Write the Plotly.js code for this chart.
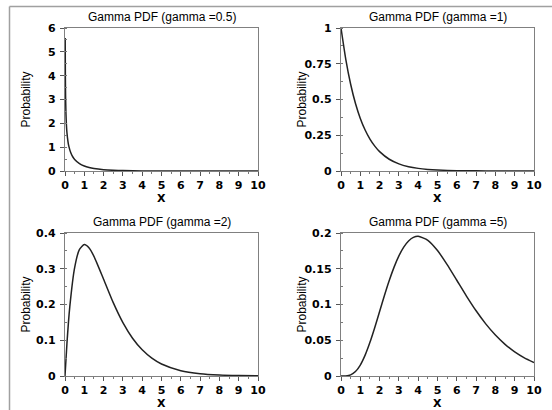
<!DOCTYPE html>
<html>
<head>
<meta charset="utf-8">
<script src="https://cdn.plot.ly/plotly-3.0.1.min.js"></script>
<style>
html,body{margin:0;padding:0;background:#fff;}
#chart{width:552px;height:410px;}
</style>
</head>
<body>
<div id="chart"></div>
<script>
// Panel titles
var titles = ["Gamma PDF (gamma =0.5)", "Gamma PDF (gamma =1)", "Gamma PDF (gamma =2)", "Gamma PDF (gamma =5)"];

// gamma = 0.5
var x1 = [0.01,0.02,0.03,0.05,0.075,0.1,0.15,0.2,0.3,0.4,0.5,0.75,1,1.25,1.5,2,2.5,3,4,5,6,8,10];
var y1 = [5.585,3.910,3.161,2.400,1.911,1.614,1.254,1.033,0.763,0.598,0.484,0.308,0.2076,0.1446,0.1028,0.0540,0.0293,0.0162,0.00517,0.0017,0.00057,0.000067,0.0000081];

// gamma = 1
var x2 = [0,0.25,0.5,0.75,1,1.25,1.5,1.75,2,2.5,3,3.5,4,4.5,5,6,7,8,9,10];
var y2 = [1,0.7788,0.6065,0.4724,0.3679,0.2865,0.2231,0.1738,0.1353,0.0821,0.0498,0.0302,0.0183,0.0111,0.00674,0.00248,0.000912,0.000335,0.000123,0.0000454];

// gamma = 2
var x3 = [0,0.1,0.25,0.5,0.75,1,1.25,1.5,2,2.5,3,3.5,4,4.5,5,6,7,8,9,10];
var y3 = [0,0.0905,0.1947,0.3033,0.3543,0.3679,0.3581,0.3347,0.2707,0.2052,0.1494,0.1057,0.0733,0.0500,0.0337,0.0149,0.00638,0.00268,0.00111,0.000454];

// gamma = 5
var x4 = [0,0.25,0.5,0.75,1,1.25,1.5,1.75,2,2.25,2.5,2.75,3,3.25,3.5,3.75,4,4.5,5,5.5,6,6.5,7,7.5,8,8.5,9,9.5,10];
var y4 = [0,0.000127,0.00158,0.00623,0.01533,0.02914,0.04707,0.0679,0.0902,0.1126,0.1336,0.1523,0.1680,0.1802,0.1888,0.1938,0.1954,0.1898,0.1755,0.1558,0.1339,0.1118,0.0912,0.0729,0.0573,0.0443,0.0337,0.0254,0.0189];

// y tick settings per panel
var yRanges = [[0,6],[0,1],[0,0.4],[0,0.2]];
var yTickVals = [[0,1,2,3,4,5,6],[0,0.25,0.5,0.75,1],[0,0.1,0.2,0.3,0.4],[0,0.05,0.1,0.15,0.2]];
var yTickText = [["0","1","2","3","4","5","6"],["0","0.25","0.5","0.75","1"],["0","0.1","0.2","0.3","0.4"],["0","0.05","0.1","0.15","0.2"]];
var yMinorDtick = [0.5,0.125,0.05,0.025];
var xTicks = [0,1,2,3,4,5,6,7,8,9,10];

var W = 552, H = 410;
var boxes = [
  {l:65, r:258, t:28, b:171},
  {l:341, r:534, t:28, b:171},
  {l:65, r:258, t:233, b:376},
  {l:341, r:534, t:233, b:376}
];

var xs = [x1,x2,x3,x4], ys = [y1,y2,y3,y4];
var traces = [];
var layout = {
  width: W, height: H,
  margin: {l:0, r:0, t:0, b:0},
  paper_bgcolor: '#fff', plot_bgcolor: '#fff',
  showlegend: false,
  font: {family: 'DejaVu Sans', size: 11, color: '#000'},
  annotations: [],
  shapes: [
    {type:'line', xref:'paper', yref:'paper', x0:9.5/W, x1:9.5/W, y0:0, y1:1-6.5/H, line:{color:'#a0a0a0', width:1.5}},
    {type:'line', xref:'paper', yref:'paper', x0:9.5/W, x1:1, y0:1-6.5/H, y1:1-6.5/H, line:{color:'#a0a0a0', width:1.5}}
  ]
};

for (var i = 0; i < 4; i++) {
  var n = i === 0 ? '' : String(i+1);
  var b = boxes[i];
  traces.push({
    x: xs[i], y: ys[i], type: 'scatter', mode: 'lines',
    line: {color: '#222', width: 1.5, shape: 'spline', smoothing: 0.6},
    xaxis: 'x' + n, yaxis: 'y' + n, hoverinfo: 'none'
  });
  var axCommon = {
    showgrid: false, zeroline: false, showline: true, mirror: true,
    linecolor: '#808080', linewidth: 1.2,
    ticks: 'outside', ticklen: 4, tickcolor: '#555', tickwidth: 1,
    tickfont: {family: 'DejaVu Sans', size: 11, color: '#000', weight: 'bold'},
    fixedrange: true
  };
  layout['xaxis' + n] = Object.assign({}, axCommon, {
    domain: [b.l/W, b.r/W], anchor: 'y' + n,
    range: [0, 10], tickmode: 'array', tickvals: xTicks, ticktext: xTicks.map(String),
    ticklabelstandoff: 0,
    minor: {dtick: 0.5, ticks: 'outside', ticklen: 2, tickcolor: '#777'}
  });
  layout['yaxis' + n] = Object.assign({}, axCommon, {
    domain: [1 - b.b/H, 1 - b.t/H], anchor: 'x' + n,
    range: yRanges[i], tickmode: 'array', tickvals: yTickVals[i], ticktext: yTickText[i],
    ticklabelstandoff: 2,
    minor: {dtick: yMinorDtick[i], ticks: 'inside', ticklen: 2, tickcolor: '#777'}
  });
  layout.annotations.push({
    text: titles[i], xref: 'paper', yref: 'paper', showarrow: false,
    x: (b.l + b.r) / 2 / W, y: 1 - (b.t - 11) / H, xanchor: 'center', yanchor: 'middle',
    font: {family: 'Liberation Sans', size: 12, color: '#000'}
  });
  layout.annotations.push({
    text: 'X', xref: 'paper', yref: 'paper', showarrow: false,
    x: (b.l + b.r) / 2 / W, y: 1 - (b.b + 27) / H, xanchor: 'center', yanchor: 'middle',
    font: {family: 'DejaVu Sans', size: 11, color: '#000', weight: 'bold'}
  });
  layout.annotations.push({
    text: 'Probability', xref: 'paper', yref: 'paper', showarrow: false,
    x: (b.l - 40) / W, y: 1 - (b.t + b.b) / 2 / H, xanchor: 'center', yanchor: 'middle',
    textangle: -90,
    font: {family: 'Liberation Sans', size: 12, color: '#000'}
  });
}

Plotly.newPlot('chart', traces, layout, {displayModeBar: false, staticPlot: true});
</script>
</body>
</html>
